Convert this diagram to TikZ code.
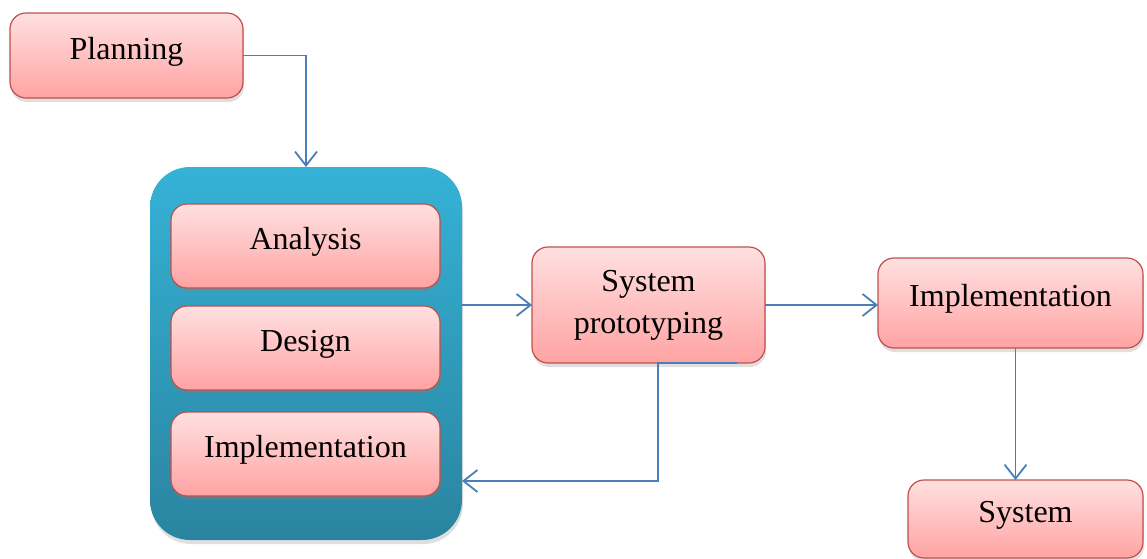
\documentclass[tikz,border=0pt]{standalone}
\usepackage{fontspec}
\setmainfont{Liberation Serif}
\usetikzlibrary{arrows.meta,shadows}
\definecolor{stageline}{RGB}{192,80,77}
\definecolor{stagetop}{RGB}{255,224,224}
\definecolor{stagebot}{RGB}{255,163,163}
\definecolor{poolTop}{RGB}{53,178,214}
\definecolor{poolBot}{RGB}{42,132,160}
\definecolor{flowline}{RGB}{74,126,187}
\tikzset{every picture/.style={
  >={Straight Barb[length=7pt,width=11pt,line width=0.9pt]} % open barbs.
  }
}

\begin{document}
\begin{tikzpicture}[
      x=0.5pt, y=-0.5pt,
      stage/.style 2 args={
        draw=stageline,
        line width=0.6pt,
        rounded corners=8pt,
        top color=stagetop,
        bottom color=stagebot,
        drop shadow={shadow xshift=0.5pt,shadow yshift=-2pt,opacity=0.25},
        minimum width=#1,
        minimum height=#2,
        inner sep=0pt, outer sep=0pt,
        text depth=7.5pt,
        align=center,
        font=\fontsize{16}{21}\selectfont
      },
      flow/.style={->, draw=flowline, line width=0.9pt}]

      \useasboundingbox (0,0) rectangle (1147,558);

      % The iterative block round analysis, design and implementation.
      \node[rounded corners=20pt, top color=poolTop, bottom color=poolBot,
        drop shadow={shadow xshift=0.5pt,shadow yshift=-2pt,opacity=0.25},
        minimum width=156pt, minimum height=186.5pt, inner sep=0pt,
        outer sep=0pt] (pool) at (306,353.5) {};

      % Draw the stages.
      \node[stage={116.5pt}{42.5pt}] (plan) at (126.5,55.5) {Planning};
      \node[stage={134.5pt}{42pt}] (ana) at (305.5,246) {Analysis};
      \node[stage={134.5pt}{42pt}] (des) at (305.5,348) {Design};
      \node[stage={134.5pt}{42pt}] (impin) at (305.5,454) {Implementation};
      \node[stage={116.5pt}{58pt}, text depth=] (proto) at (648.5,305) {System\\prototyping};
      \node[stage={132.5pt}{45pt}] (impl) at (1010.5,303) {Implementation};
      \node[stage={117.5pt}{39pt}] (sys) at (1025.5,519) {System};

      % Draw the connectors.
      \coordinate (back) at (658,481);
      \draw[flow] (plan.east) -| (pool.north);
      \draw[flow] (pool.east |- proto.west) -- (proto.west);
      \draw[flow] (proto.east) -- (proto.east -| impl.west);
      \draw[flow] ([xshift=-14pt]proto.south east) -| (back) -- (back -| pool.east);
      \draw[flow] ([xshift=2.5pt]impl.south) -- ([xshift=2.5pt]impl.south |- sys.north);

    \end{tikzpicture}
\end{document}
